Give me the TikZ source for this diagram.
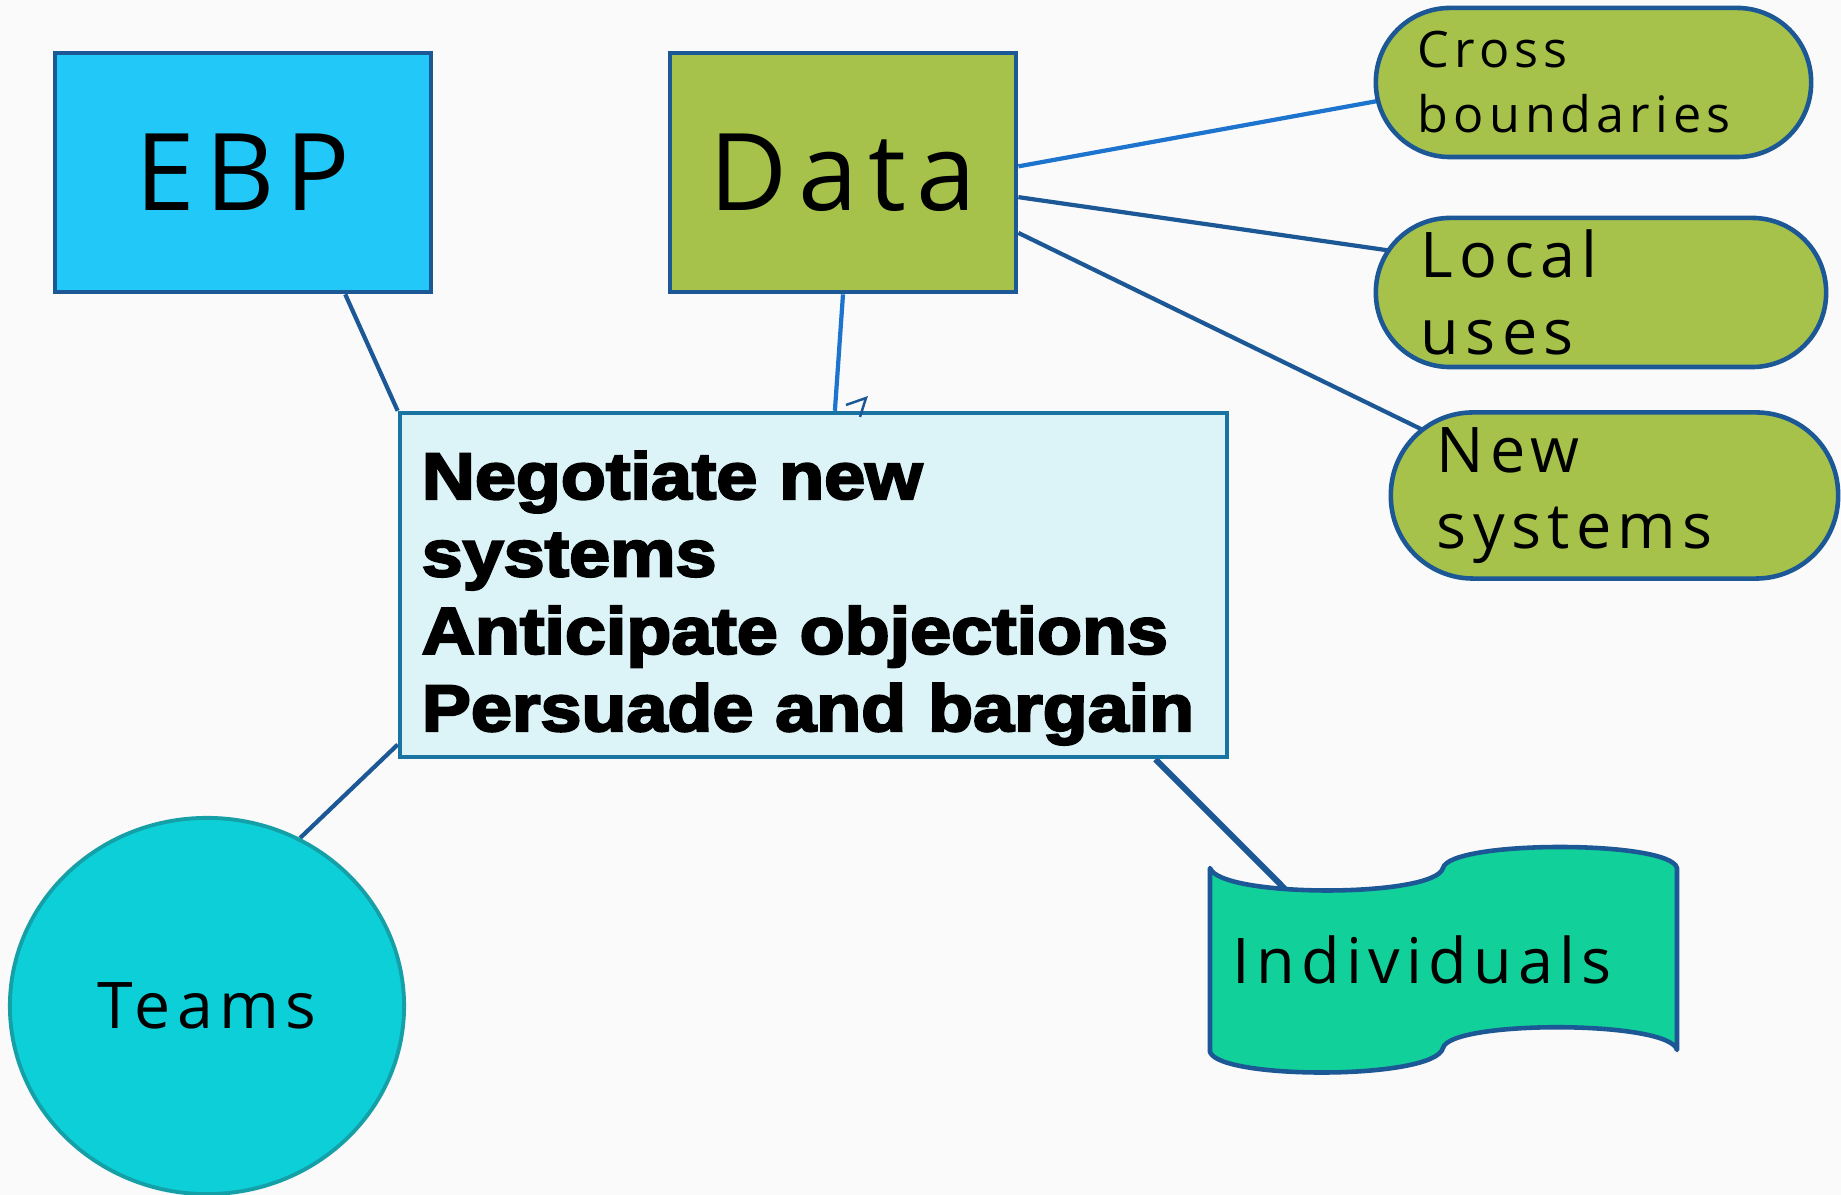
\documentclass[tikz,border=0pt]{standalone}
\usepackage{fontspec}
\setmainfont{Open Sans}[LetterSpace=10]
\newfontfamily\heavyfont{Liberation Sans Bold}[FakeBold=3.5,FakeStretch=1.12]
\usetikzlibrary{shapes,backgrounds,calc,positioning}
\definecolor{ebpblue}{HTML}{22C8F8}
\definecolor{datagreen}{HTML}{A6C24B}
\definecolor{edgeblue}{HTML}{1C5796}
\definecolor{lightlink}{HTML}{1C74CE}
\definecolor{boxfill}{HTML}{DCF4F8}
\definecolor{boxedge}{HTML}{1A74A2}
\definecolor{teamsfill}{HTML}{0CCFD8}
\definecolor{teamsedge}{HTML}{15A0A8}
\definecolor{indfill}{HTML}{12D09A}
\definecolor{paper}{HTML}{FAFAFA}
\tikzset{
    block/.style ={rectangle, draw=edgeblue, line width=1.3pt, inner sep=0pt,
                   font=\fontsize{30.5pt}{36pt}\selectfont},
    pill/.style ={rectangle, draw=edgeblue, fill=datagreen, line width=1.3pt,
                  rounded corners=#1, inner sep=0pt, align=left},
    pill/.default=0.74cm,
    link/.style ={edgeblue, line width=1.2pt},
    pillfont/.style={font=\fontsize{17.9pt}{21.7pt}\selectfont}
}

\begin{document}
\begin{tikzpicture}[x=0.01cm, y=-0.01cm]
    \begin{pgfonlayer}{background}
    \fill[paper] (0,0) rectangle (1841,1195);
    \end{pgfonlayer}
    \useasboundingbox (0,0) rectangle (1841,1195);

    \node[block, fill=ebpblue, minimum width=3.76cm, minimum height=2.39cm] (ebp) at (243,172.5) {EBP};
    \node[block, fill=datagreen, minimum width=3.46cm, minimum height=2.39cm] (data) at (843,172.5) {Data};

    \node[pill, text width=3.51cm, minimum width=4.35cm, minimum height=1.49cm,
          font=\fontsize{14.3pt}{18.5pt}\selectfont] (cross) at (1593.5,82.5) {Cross\\boundaries};
    \node[pill, pillfont, text width=3.60cm, minimum width=4.50cm, minimum height=1.49cm] (local) at (1601,292.5) {Local\\uses};
    \node[pill=0.82cm, pillfont, text width=3.55cm, minimum width=4.47cm, minimum height=1.66cm] (new) at (1614.5,495.5) {New\\systems};

    \node[rectangle, draw=boxedge, fill=boxfill, line width=1.2pt, inner sep=0pt,
          minimum width=8.27cm, minimum height=3.44cm, text width=7.83cm, align=left,
          font=\heavyfont\fontsize{18.7pt}{22pt}\selectfont] (box) at (813.5,585)
          {\rule{0pt}{21pt}Negotiate new\\systems\\Anticipate objections\\Persuade and bargain};

    \node[ellipse, draw=teamsedge, fill=teamsfill, line width=1.1pt, inner sep=0pt,
          minimum width=3.94cm, minimum height=3.76cm,
          font=\fontsize{18.3pt}{22pt}\selectfont] (teams) at (207,1006) {Teams};

    \draw[edgeblue, fill=indfill, line width=1.3pt, line cap=round, line join=round]
        (1210,868) .. controls (1220,898) and (1435,898) .. (1443,868)
        .. controls (1450,840) and (1670,840) .. (1677,868) -- (1677,1050)
        .. controls (1670,1020) and (1450,1020) .. (1443,1048)
        .. controls (1435,1080) and (1220,1080) .. (1210,1052) -- cycle;
    \coordinate (indtop) at (1285,889);
    \node[pillfont] (ind) at (1422,960) {Individuals};

    \begin{pgfonlayer}{background}
    \path[link] (ebp.-50) edge (box.north west);
    \path[link, lightlink] (data.south) edge (box.83);
    \path[link, lightlink, shorten >=-20pt] (data.2) edge (cross.185);
    \path[link, shorten >=-20pt] (data.-8) edge (local.169);
    \path[link, shorten >=-20pt] (data.-19) edge (new.160);
    \path[link] (box.201) edge (teams.61);
    \path[link, line width=1.7pt] (box.-27) edge (indtop);
    \end{pgfonlayer}
    \draw[edgeblue, line width=0.7pt] (846,405) -- (866,398) -- (860,417);
\end{tikzpicture}
\end{document}
